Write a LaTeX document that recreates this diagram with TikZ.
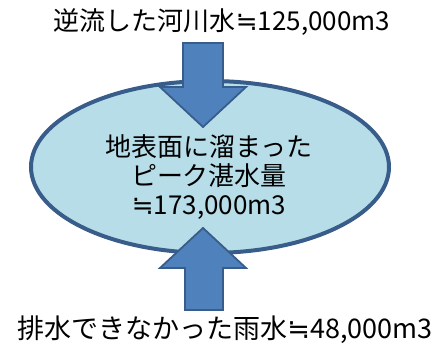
\documentclass[tikz,border=0pt]{standalone}
\usepackage{fontspec}
\setmainfont{Noto Sans CJK JP}
\newfontfamily\symfont{DejaVu Sans}
\newcommand{\nearlyeq}{{\symfont ≒}}
\usetikzlibrary{shapes.geometric}
\definecolor{poolfill}{RGB}{183,221,232}
\definecolor{pooledge}{RGB}{56,93,138}
\definecolor{arrowfill}{RGB}{79,129,189}
\definecolor{arrowedge}{RGB}{56,93,138}
\tikzset{
  pool/.style={ellipse, draw=pooledge, fill=poolfill, line width=4pt,
    minimum width=358pt, minimum height=172pt, inner sep=0pt},
  flow/.style={fill=arrowfill, draw=arrowedge, line width=1.8pt, line join=miter},
  label/.style={font=\fontsize{26}{29}\selectfont, inner sep=0pt, align=center},
}
\begin{document}
\begin{tikzpicture}[x=1pt,y=-1pt]
\useasboundingbox (0,0) rectangle (440,347);
\node[pool] (pool) at (210,167) {};
% top arrow (down)
\draw[flow] (183,43) -- (223,43) -- (223,87) -- (246,87) -- (203,127) -- (160,87) -- (183,87) -- cycle;
% bottom arrow (up)
\draw[flow] (185,310) -- (223,310) -- (223,268) -- (246,268) -- (203,228) -- (160,268) -- (185,268) -- cycle;
\node[label] (pooltext) at (209,177) {地表面に溜まった\\ピーク湛水量\\\nearlyeq173,000m3};
\node[label] (river) at (222,22) {逆流した河川水\nearlyeq125,000m3};
\node[label, font=\fontsize{27}{30}\selectfont] (rain) at (225,330) {排水できなかった雨水\nearlyeq48,000m3};
\end{tikzpicture}
\end{document}
